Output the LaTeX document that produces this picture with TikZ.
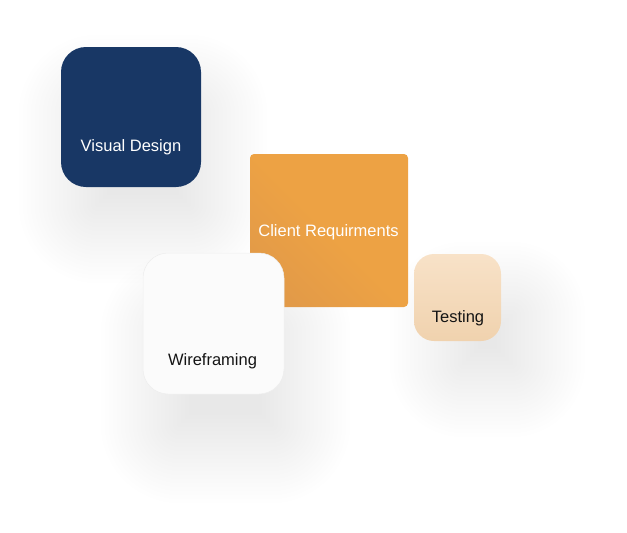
\documentclass[tikz,border=0pt]{standalone}
\usepackage{fontspec}
\setmainfont{Liberation Sans}
\usepackage{tikz}

\definecolor{navy}{HTML}{183765}
\definecolor{orangecard}{HTML}{EDA244}
\definecolor{orangedeep}{HTML}{E29A48}
\definecolor{wirecard}{HTML}{FBFBFB}
\definecolor{testtop}{HTML}{F8E2C8}
\definecolor{testbot}{HTML}{F0D2AE}
\definecolor{inktext}{HTML}{141414}

\pgfdeclarelayer{background}
\pgfsetlayers{background,main}

\tikzset{
  card/.style={inner sep=0pt, draw=none},
  lbl/.style={anchor=base, inner sep=0pt, font=\fontsize{16.5}{19}\selectfont},
  shadowlayer/.style={fill=black, opacity=0.004}
}

\begin{document}
\begin{tikzpicture}[x=1pt,y=-1pt]
                    \useasboundingbox (0,0) rectangle (627,533);

                    \node[card, fill=navy, rounded corners=25pt, minimum width=140pt, minimum height=140pt] (vd) at (131,117) {};
                    \node[card, bottom color=orangedeep, top color=orangecard, middle color=orangecard, shading angle=-45, rounded corners=4pt, minimum width=158pt, minimum height=153pt] (cr) at (329,230.5) {};
                    \node[card, fill=wirecard, draw=black!7, line width=0.5pt, rounded corners=25pt, minimum width=141pt, minimum height=141pt] (wf) at (213.5,323.5) {};
                    \node[card, top color=testtop, bottom color=testbot, rounded corners=20pt, minimum width=87pt, minimum height=87pt] (ts) at (457.5,297.5) {};

                    \node[lbl, white] (vdtext) at (131,151.7) {Visual Design};
                    \node[lbl, white] (crtext) at (328.5,236.7) {Client Requirments};
                    \node[lbl, inktext] (wftext) at (212.5,365) {Wireframing};
                    \node[lbl, inktext] (tstext) at (458,322.3) {Testing};

                    \begin{pgfonlayer}{background}
                    \foreach \n/\r/\dx/\dy in {vd/25/12/42,wf/25/12/55,ts/20/30/42}{
                        \foreach \s in {-34,-30,...,56}{
                            \pgfmathsetmacro{\rr}{max(\r+\s,1)}
                            \fill[shadowlayer, rounded corners=\rr pt]
                                ([shift={(-\s+\dx,-\s+\dy)}]\n.north west) rectangle ([shift={(\s+\dx,\s+\dy)}]\n.south east);
                        }
                    }
                    \end{pgfonlayer}
\end{tikzpicture}
\end{document}
